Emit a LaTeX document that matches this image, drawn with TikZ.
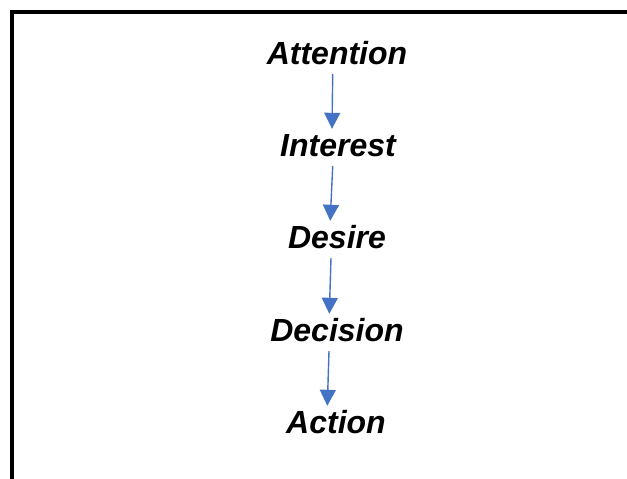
\documentclass[tikz,border=0pt]{standalone}
\usepackage{fontspec}
\setmainfont{Liberation Sans}
\usetikzlibrary{arrows.meta,positioning}
\definecolor{flowblue}{HTML}{4472C4}
\tikzset{
    stage/.style={
        anchor=base,
        font=\fontsize{32}{38}\selectfont\bfseries\itshape,
        text height=21pt,
        text depth=4pt,
        inner xsep=2pt,
        inner ysep=6pt
    },
    line/.style={draw=flowblue, line width=1.4pt,
        -{Triangle[width=16pt,length=16pt]}},
    frame/.style={draw=black, line width=4.2pt}
}
\begin{document}
\begin{tikzpicture}[x=1pt,y=-1pt]
    \useasboundingbox (0,0) rectangle (627,479);
    % frame, open to the right and bottom
    \draw[frame] (12,479) -- (12,12) -- (627,12);

    \node[stage] (att) at (337,64)  {Attention};
    \node[stage] (int) at (338,156) {Interest};
    \node[stage] (des) at (337,248) {Desire};
    \node[stage] (dec) at (337,341) {Decision};
    \node[stage] (act) at (336,433) {Action};

    \draw[line] ([xshift=-4.3pt]att.south) -- ([xshift=-6pt]int.north);
    \draw[line] ([xshift=-5.3pt]int.south) -- ([xshift=-6.8pt]des.north);
    \draw[line] ([xshift=-6pt]des.south)   -- ([xshift=-7.7pt]dec.north);
    \draw[line] ([xshift=-8pt]dec.south)   -- ([xshift=-8.7pt]act.north);
\end{tikzpicture}
\end{document}
